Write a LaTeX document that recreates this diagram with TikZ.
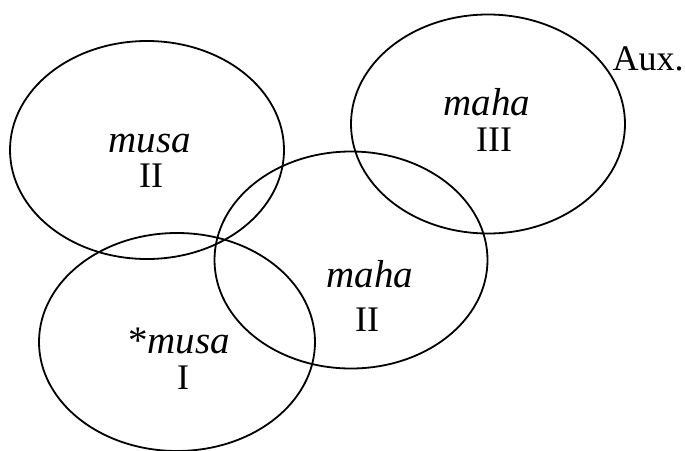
\documentclass[tikz,border=0pt]{standalone}
\usepackage{fontspec}
\setmainfont{Liberation Serif}
\usetikzlibrary{shapes.geometric}
\begin{document}
\begin{tikzpicture}[x=1pt,y=-1pt,
  circ/.style={draw,ellipse,line width=1.8pt,inner sep=0pt},
  lbl/.style={anchor=base,inner sep=0pt,font=\fontsize{36}{37}\selectfont},
  itl/.style={anchor=base,inner sep=0pt,font=\fontsize{39}{40}\selectfont\itshape}]
\useasboundingbox (0,0) rectangle (685,450);
\node[circ,minimum width=274pt,minimum height=218pt] (e1) at (147,150) {};
\node[circ,minimum width=276pt,minimum height=218pt] (e2) at (177,342) {};
\node[circ,minimum width=273pt,minimum height=217pt] (e3) at (351,260) {};
\node[circ,minimum width=274pt,minimum height=219pt] (e4) at (488,124) {};
\node[itl] (t1a) at (150,152) {musa};
\node[lbl] (t1b) at (151,187) {II};
\node[itl] (t2a) at (179,353) {{\upshape*}musa};
\node[lbl] (t2b) at (183,389) {I};
\node[itl] (t3a) at (370,287) {maha};
\node[lbl] (t3b) at (367,331) {II};
\node[itl] (t4a) at (487,115) {maha};
\node[lbl] (t4b) at (494,151) {III};
\node[lbl] (aux) at (648,70) {Aux.};
\end{tikzpicture}
\end{document}
